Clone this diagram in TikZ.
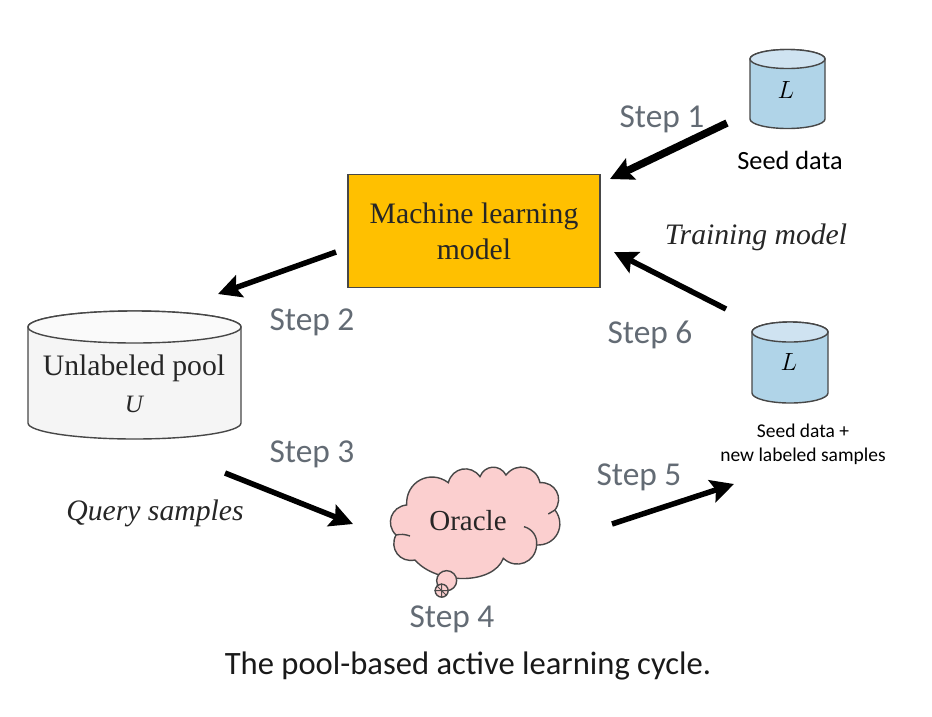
\documentclass[tikz,border=0pt]{standalone}
\usepackage{fontspec}
\setmainfont{Liberation Serif}
\newfontfamily\calibri{Carlito}
\usetikzlibrary{arrows.meta}
\definecolor{stepgray}{HTML}{636B74}
\definecolor{modelgold}{HTML}{FFC000}
\definecolor{seedblue}{HTML}{B0D4E8}
\definecolor{seedtop}{HTML}{CFE3F1}
\definecolor{poolgray}{HTML}{F5F5F5}
\definecolor{cloudpink}{HTML}{FBCFCF}
\tikzset{
	steplabel/.style={font=\calibri\fontsize{33.4}{33.4}\selectfont, text=stepgray},
	seriflabel/.style={font=\fontsize{29.7}{36}\selectfont, align=center, text=black!85},
	italiclabel/.style={font=\itshape\fontsize{29.7}{30}\selectfont, text=black!85},
	outline/.style={draw=black!72, line width=1.4pt},
	flow/.style={line width=5.5pt, -{Stealth[length=23pt,width=23pt,inset=4pt]}},
}
% center x, center y, half width, half height, cap radius, body colour, top colour
\newcommand{\drum}[7]{
	\path[outline, fill=#6] (#1-#3,#2-#4+#5) -- (#1-#3,#2+#4-#5) arc[start angle=180, end angle=360, x radius=#3, y radius=-#5] -- (#1+#3,#2-#4+#5) arc[start angle=0, end angle=180, x radius=#3, y radius=-#5] -- cycle;
	\path[outline, fill=#7] (#1,#2-#4+#5) ellipse[x radius=#3, y radius=#5];
}
\begin{document}
\begin{tikzpicture}[x=1pt,y=-1pt]
	\useasboundingbox (0,0) rectangle (932,716);
	
	% Model
	\node[outline, fill=modelgold, minimum width=252pt, minimum height=113pt, seriflabel] (model) at (474,231) {Machine learning\\model};
	
	% Cylinders
	\drum{787.5}{89}{37.5}{39.5}{9.5}{seedblue}{seedtop}
	\node[font=\fontsize{24}{24}\selectfont] (seed) at (786,90) {$L$};
	\drum{790}{362.5}{38}{40.5}{10}{seedblue}{seedtop}
	\node[font=\fontsize{24}{24}\selectfont] (seedplus) at (789,362) {$L$};
	\drum{134.5}{375}{106.5}{64}{16}{poolgray}{white!50!poolgray}
	\node[seriflabel] (pool) at (134,368) {Unlabeled pool};
	\node[font=\itshape\fontsize{25}{25}\selectfont, text=black!85] (poolname) at (134,404) {U};
	
	% Oracle
	\begin{scope}[shift={(380,460)}, x=0.3333pt, y=-0.3333pt]
		\draw[outline, fill=cloudpink, bend left=65, looseness=1.25]
			(80,135) to (205,68) to (300,50) to (378,45) to (480,68) to (525,150)
			to (470,255) to (370,295)
			.. controls (340,375) and (170,375) .. (105,300)
			to (48,225) to (80,135) -- cycle;
		\draw[outline, bend left=40] (432,200) to (470,255);
		\draw[outline, bend left=15] (48,225) to (90,228);
		\draw[outline] (505,162) -- (525,150);
		\node[circle, outline, fill=cloudpink, minimum size=20pt, inner sep=0pt] (bubble) at (200,362) {};
		\node[circle, outline, fill=cloudpink, minimum size=13pt, inner sep=0pt] (dot) at (185,392) {};
		\draw[black!70, line width=0.9pt] (dot.west) -- (dot.east) (dot.north) -- (dot.south) (dot.north west) -- (dot.south east);
	\end{scope}
	\node[font=\fontsize{29}{29}\selectfont, text=black!85] (oracle) at (468,521) {Oracle};
	
	% Labels
	\node[steplabel] (step1) at (662,119) {Step 1};
	\node[steplabel] (step2) at (312,322) {Step 2};
	\node[steplabel] (step3) at (312,454) {Step 3};
	\node[steplabel] (step4) at (452,619) {Step 4};
	\node[steplabel] (step5) at (639,477) {Step 5};
	\node[steplabel] (step6) at (650,335) {Step 6};
	\node[font=\calibri\fontsize{26.3}{26.3}\selectfont] (seedtxt) at (790,160) {Seed data};
	\node[font=\calibri\fontsize{19.5}{24}\selectfont, align=center] (seedplustxt) at (803,444) {Seed data +\\new labeled samples};
	\node[italiclabel] (training) at (756,237) {Training model};
	\node[italiclabel] (query) at (155,513) {Query samples};
	\node[font=\calibri\fontsize{32.6}{32.6}\selectfont, text=black!90] (caption) at (468,666) {The pool-based active learning cycle.};
	
	% Arrows
	\coordinate (a1s) at (727,123);
	\coordinate (a1e) at (610,179);
	\coordinate (a2s) at (336,252);
	\coordinate (a2e) at (218,294);
	\coordinate (a3s) at (225,473);
	\coordinate (a3e) at (353,524);
	\coordinate (a5s) at (612,524);
	\coordinate (a5e) at (734,484);
	\coordinate (a6s) at (726,309);
	\coordinate (a6e) at (614,252);
	\draw[flow, line width=7.5pt] (a1s) -- (a1e);
	\draw[flow] (a2s) -- (a2e);
	\draw[flow] (a3s) -- (a3e);
	\draw[flow] (a5s) -- (a5e);
	\draw[flow] (a6s) -- (a6e);
\end{tikzpicture}
\end{document}
